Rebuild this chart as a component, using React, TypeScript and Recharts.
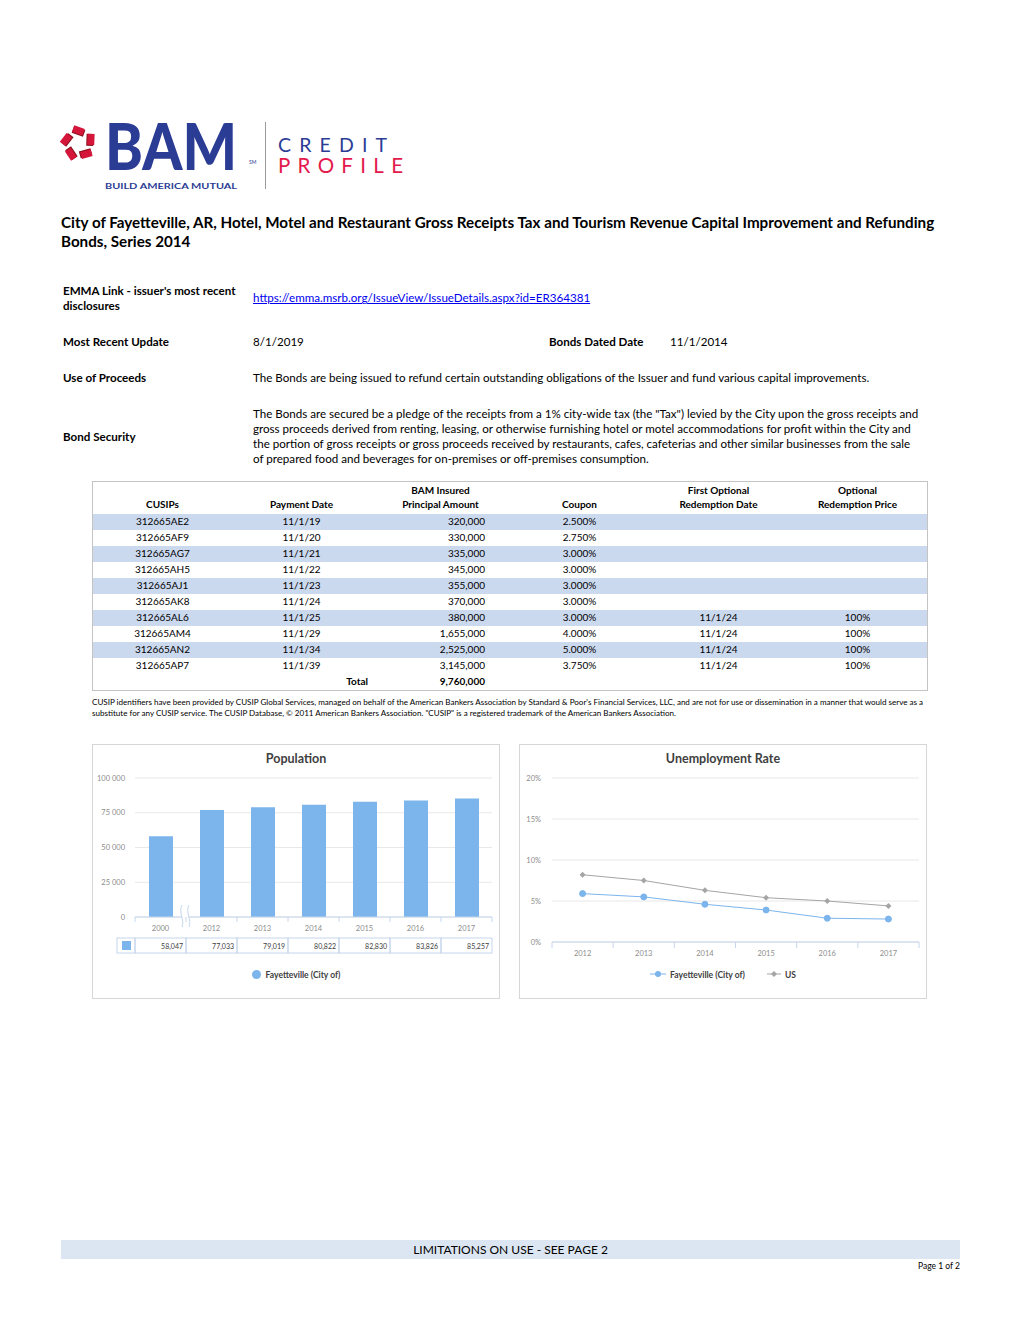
import React from 'react'
import {BarChart, Bar, LineChart, Line, XAxis, YAxis, CartesianGrid} from 'recharts'

// population chart
const popYears = ['2000', '2012', '2013', '2014', '2015', '2016', '2017']
const popValues = [58047, 77033, 79019, 80822, 82830, 83826, 85257]
const popTicks = [0, 25000, 50000, 75000, 100000]

// unemployment chart
const rateYears = ['2012', '2013', '2014', '2015', '2016', '2017']
const fayettevilleRate = [5.9, 5.5, 4.6, 3.9, 2.9, 2.8]
const usRate = [8.2, 7.5, 6.3, 5.4, 5.0, 4.4]
const rateTicks = [0, 5, 10, 15, 20]

// maturity table
const cusips = ['312665AE2', '312665AF9', '312665AG7', '312665AH5', '312665AJ1', '312665AK8', '312665AL6', '312665AM4', '312665AN2', '312665AP7']
const paymentDates = ['11/1/19', '11/1/20', '11/1/21', '11/1/22', '11/1/23', '11/1/24', '11/1/25', '11/1/29', '11/1/34', '11/1/39']
const principals = [320000, 330000, 335000, 345000, 355000, 370000, 380000, 1655000, 2525000, 3145000]
const coupons = ['2.500%', '2.750%', '3.000%', '3.000%', '3.000%', '3.000%', '3.000%', '4.000%', '5.000%', '3.750%']
const callDates = ['', '', '', '', '', '', '11/1/24', '11/1/24', '11/1/24', '11/1/24']
const callPrices = ['', '', '', '', '', '', '100%', '100%', '100%', '100%']

const popData = popYears.map((year, i) => ({year, value: popValues[i]}))
const rateData = rateYears.map((year, i) => ({year, fay: fayettevilleRate[i], us: usRate[i]}))

const BLUE = '#7cb5ec'
const GRAY = '#a5a5a5'
const AXIS = '#c6d6ec'
const LABEL = '#8c8c8c'
const NAVY = '#2b3c95'
const RED = '#e3194b'
const FONT = 'Lato, "Open Sans", sans-serif'

const POP_BAND = (408 - 43 - 8) / popYears.length
const RATE_BAND = (408 - 33 - 8) / rateYears.length

const fmtSpace = (v: number) => v.toLocaleString('en-US').replace(/,/g, ' ')

function YTick(props: any) {
    const {x, y, payload, fmt} = props
    return (
        <text x={x} y={y} textAnchor="end" dominantBaseline="central" fontSize={7.5} fill={LABEL} fontFamily={FONT}>
            {fmt(payload.value)}
        </text>
    )
}

function PopTick(props: any) {
    const {x, y, payload} = props
    const i = popYears.indexOf(payload.value)
    const h = POP_BAND / 2
    return (
        <g>
            <line x1={x - h} x2={x - h} y1={y} y2={y + 5} stroke={AXIS}/>
            {i === popYears.length - 1 && <line x1={x + h} x2={x + h} y1={y} y2={y + 5} stroke={AXIS}/>}
            <text x={x} y={y + 11} textAnchor="middle" dominantBaseline="central" fontSize={7.5} fill={LABEL} fontFamily={FONT}>{payload.value}</text>
            <rect x={x - h} y={y + 21} width={POP_BAND} height={15} fill="none" stroke={AXIS}/>
            <text x={x + h - 3} y={y + 28.5} textAnchor="end" dominantBaseline="central" fontSize={7} fill="#404040" fontFamily={FONT}>
                {popValues[i].toLocaleString('en-US')}
            </text>
            {i === 0 && (
                <g>
                    <rect x={x - h - 18} y={y + 21} width={18} height={15} fill="none" stroke={AXIS}/>
                    <rect x={x - h - 13} y={y + 24} width={9} height={9} fill={BLUE}/>
                    {/* axis break */}
                    <path d={`M${x + h - 4},${y - 12} C${x + h - 8},${y - 5} ${x + h - 1},${y + 3} ${x + h - 4},${y + 10} L${x + h + 3},${y + 10} C${x + h + 6},${y + 3} ${x + h - 1},${y - 5} ${x + h + 3},${y - 12} Z`} fill="#fff"/>
                    <path d={`M${x + h - 4},${y - 12} C${x + h - 8},${y - 5} ${x + h - 1},${y + 3} ${x + h - 4},${y + 10}`} fill="none" stroke={AXIS}/>
                    <path d={`M${x + h + 3},${y - 12} C${x + h - 1},${y - 5} ${x + h + 6},${y + 3} ${x + h + 3},${y + 10}`} fill="none" stroke={AXIS}/>
                </g>
            )}
        </g>
    )
}

function RateTick(props: any) {
    const {x, y, payload} = props
    const i = rateYears.indexOf(payload.value)
    const h = RATE_BAND / 2
    return (
        <g>
            <line x1={x - h} x2={x - h} y1={y} y2={y + 6} stroke={AXIS}/>
            {i === rateYears.length - 1 && <line x1={x + h} x2={x + h} y1={y} y2={y + 6} stroke={AXIS}/>}
            <text x={x} y={y + 11} textAnchor="middle" dominantBaseline="central" fontSize={7.5} fill={LABEL} fontFamily={FONT}>{payload.value}</text>
        </g>
    )
}

function Diamond(props: any) {
    const {cx, cy, index} = props
    return <path key={`d${index}`} d={`M${cx},${cy - 3}L${cx + 3},${cy}L${cx},${cy + 3}L${cx - 3},${cy}Z`} fill={GRAY}/>
}

const boxStyle = (left: number): React.CSSProperties => ({
    position: 'absolute', left, top: 744, width: 408, height: 255,
    border: '1px solid #d6d6d6', boxSizing: 'border-box',
})

const chartTitle: React.CSSProperties = {
    position: 'absolute', left: 0, width: 406, top: 6, textAlign: 'center',
    fontSize: 12.5, fontWeight: 700, color: '#404040', lineHeight: '16px',
}

const legendStyle: React.CSSProperties = {
    position: 'absolute', left: 0, width: 406, top: 224, textAlign: 'center',
    fontSize: 8.5, fontWeight: 700, color: '#404040', lineHeight: '12px', whiteSpace: 'nowrap',
}

function PopulationChart() {
    return (
        <div style={boxStyle(92)}>
            <div style={chartTitle}>Population</div>
            <div style={{position: 'absolute', left: -1, top: -1}}>
                <BarChart width={408} height={255} data={popData} margin={{top: 34, right: 8, left: 0, bottom: 0}}>
                    <CartesianGrid vertical={false} stroke="#e8e8e8"/>
                    <YAxis width={43} domain={[0, 100000]} ticks={popTicks}
                           axisLine={false} tickLine={false} tickSize={0} tickMargin={10}
                           tick={(p: any) => <YTick {...p} fmt={fmtSpace}/>}/>
                    <XAxis dataKey="year" height={82} axisLine={{stroke: AXIS}} tickLine={false}
                           tickSize={0} tickMargin={0} interval={0} tick={(p: any) => <PopTick {...p}/>}/>
                    <Bar dataKey="value" fill={BLUE} barSize={24} isAnimationActive={false}/>
                </BarChart>
            </div>
            <div style={legendStyle}>
                <span style={{display: 'inline-block', width: 9, height: 9, borderRadius: 5, background: BLUE, marginRight: 5, verticalAlign: -1}}/>
                Fayetteville (City of)
            </div>
        </div>
    )
}

function UnemploymentChart() {
    return (
        <div style={boxStyle(519)}>
            <div style={chartTitle}>Unemployment Rate</div>
            <div style={{position: 'absolute', left: -1, top: -1}}>
                <LineChart width={408} height={255} data={rateData} margin={{top: 34, right: 8, left: 0, bottom: 0}}>
                    <CartesianGrid vertical={false} stroke="#e8e8e8"/>
                    <YAxis width={33} domain={[0, 20]} ticks={rateTicks}
                           axisLine={false} tickLine={false} tickSize={0} tickMargin={11}
                           tick={(p: any) => <YTick {...p} fmt={(v: number) => `${v}%`}/>}/>
                    <XAxis dataKey="year" scale="band" height={57} axisLine={{stroke: AXIS}} tickLine={false}
                           tickSize={0} tickMargin={0} interval={0} tick={(p: any) => <RateTick {...p}/>}/>
                    <Line dataKey="us" stroke={GRAY} strokeWidth={1} dot={(p: any) => <Diamond {...p}/>} isAnimationActive={false}/>
                    <Line dataKey="fay" stroke={BLUE} strokeWidth={1} dot={{r: 3, fill: BLUE, stroke: BLUE}} isAnimationActive={false}/>
                </LineChart>
            </div>
            <div style={legendStyle}>
                <svg width={16} height={8} style={{marginRight: 4, verticalAlign: 0}}>
                    <line x1={0} x2={16} y1={4} y2={4} stroke={BLUE}/>
                    <circle cx={8} cy={4} r={3} fill={BLUE}/>
                </svg>
                Fayetteville (City of)
                <svg width={14} height={8} style={{marginLeft: 22, marginRight: 4, verticalAlign: 0}}>
                    <line x1={0} x2={14} y1={4} y2={4} stroke={GRAY}/>
                    <path d="M7,1L10,4L7,7L4,4Z" fill={GRAY}/>
                </svg>
                US
            </div>
        </div>
    )
}

function Logo() {
    const star = [0, 72, 144, 216, 288]
    return (
        <svg width={370} height={100} style={{position: 'absolute', left: 55, top: 95}}>
            {star.map(a => (
                <g key={a} transform={`translate(23.5,48.5) rotate(${a}) translate(0,-12)`}>
                    <rect x={-6} y={-3.5} width={12} height={7} fill="#8b0f1c" transform="rotate(20)"/>
                    <rect x={-6} y={-4.5} width={11} height={7} fill="#d3163a" transform="rotate(20)"/>
                </g>
            ))}
            <g transform="translate(50,75) scale(1,1.12)">
                <text x={0} y={0} fontSize={58} fontWeight={900} fill={NAVY} fontFamily={FONT} textLength={132} lengthAdjust="spacingAndGlyphs">BAM</text>
            </g>
            <text x={194} y={69} fontSize={5} fill={NAVY} fontFamily={FONT}>SM</text>
            <text x={50} y={94} fontSize={7.5} fontWeight={700} fill={NAVY} fontFamily={FONT} textLength={132} lengthAdjust="spacingAndGlyphs">BUILD AMERICA MUTUAL</text>
            <line x1={210.5} x2={210.5} y1={27} y2={94} stroke="#9a9a9a"/>
            <text x={223} y={56.7} fontSize={19.5} fill={NAVY} fontFamily={FONT} textLength={109} lengthAdjust="spacing">CREDIT</text>
            <text x={223} y={78.3} fontSize={20.5} fill={RED} fontFamily={FONT} textLength={125} lengthAdjust="spacing">PROFILE</text>
        </svg>
    )
}

const T = (left: number, cy: number, size: number, extra?: React.CSSProperties): React.CSSProperties => ({
    position: 'absolute', left, top: cy - size * 0.65, lineHeight: `${size * 1.3}px`, fontSize: size,
    whiteSpace: 'nowrap', ...extra,
})

const colW = 139
const cell = (align: 'center' | 'right', pad = 0): React.CSSProperties => ({
    width: colW, textAlign: align, paddingRight: pad, boxSizing: 'border-box', flex: 'none',
})

function BondTable() {
    return (
        <div style={{position: 'absolute', left: 92, top: 481, width: 836, height: 210, border: '1px solid #c4c4c4', boxSizing: 'border-box', fontSize: 10, color: '#000'}}>
            <div style={{display: 'flex', height: 32, fontWeight: 700, lineHeight: '14px', alignItems: 'flex-end', paddingBottom: 3, boxSizing: 'border-box'}}>
                <div style={cell('center')}>CUSIPs</div>
                <div style={cell('center')}>Payment Date</div>
                <div style={cell('center')}>BAM Insured<br/>Principal Amount</div>
                <div style={cell('center')}>Coupon</div>
                <div style={cell('center')}>First Optional<br/>Redemption Date</div>
                <div style={cell('center')}>Optional<br/>Redemption Price</div>
            </div>
            {cusips.map((c, i) => (
                <div key={c} style={{display: 'flex', height: 16, lineHeight: '15px', background: i % 2 === 0 ? '#cbd9ef' : '#fff'}}>
                    <div style={cell('center')}>{c}</div>
                    <div style={cell('center')}>{paymentDates[i]}</div>
                    <div style={cell('right', 25)}>{principals[i].toLocaleString('en-US')}</div>
                    <div style={cell('center')}>{coupons[i]}</div>
                    <div style={cell('center')}>{callDates[i]}</div>
                    <div style={cell('center')}>{callPrices[i]}</div>
                </div>
            ))}
            <div style={{display: 'flex', height: 16, lineHeight: '15px', fontWeight: 700}}>
                <div style={cell('center')}/>
                <div style={cell('right', 3)}>Total</div>
                <div style={cell('right', 25)}>{principals.reduce((a, b) => a + b, 0).toLocaleString('en-US')}</div>
            </div>
        </div>
    )
}

export default function App() {
    const FS = 11.6
    const lbl = (x: number, cy: number, text: string) => <div style={T(x, cy, FS, {fontWeight: 700})}>{text}</div>
    return (
        <div style={{position: 'absolute', left: 0, top: 0, width: 1020, height: 1320, background: '#fff', fontFamily: FONT, color: '#000'}}>
            <Logo/>
            <div style={T(61, 223, 15.2, {fontWeight: 700})}>City of Fayetteville, AR, Hotel, Motel and Restaurant Gross Receipts Tax and Tourism Revenue Capital Improvement and Refunding</div>
            <div style={T(61, 242, 15.2, {fontWeight: 700})}>Bonds, Series 2014</div>

            {lbl(63, 291, 'EMMA Link - issuer\'s most recent')}
            {lbl(63, 306, 'disclosures')}
            <div style={T(253, 298, FS, {color: '#0000ee', textDecoration: 'underline'})}>https://emma.msrb.org/IssueView/IssueDetails.aspx?id=ER364381</div>

            {lbl(63, 342, 'Most Recent Update')}
            <div style={T(253, 342, FS)}>8/1/2019</div>
            {lbl(549, 342, 'Bonds Dated Date')}
            <div style={T(670, 342, FS)}>11/1/2014</div>

            {lbl(63, 378, 'Use of Proceeds')}
            <div style={T(253, 378, FS)}>The Bonds are being issued to refund certain outstanding obligations of the Issuer and fund various capital improvements.</div>

            {lbl(63, 437, 'Bond Security')}
            <div style={T(253, 414, FS)}>The Bonds are secured be a pledge of the receipts from a 1% city-wide tax (the "Tax") levied by the City upon the gross receipts and</div>
            <div style={T(253, 429, FS)}>gross proceeds derived from renting, leasing, or otherwise furnishing hotel or motel accommodations for profit within the City and</div>
            <div style={T(253, 444, FS)}>the portion of gross receipts or gross proceeds received by restaurants, cafes, cafeterias and other similar businesses from the sale</div>
            <div style={T(253, 459, FS)}>of prepared food and beverages for on-premises or off-premises consumption.</div>

            <BondTable/>

            <div style={T(92, 702, 8.05)}>CUSIP identifiers have been provided by CUSIP Global Services, managed on behalf of the American Bankers Association by Standard &amp; Poor's Financial Services, LLC, and are not for use or dissemination in a manner that would serve as a</div>
            <div style={T(92, 713, 8.05)}>substitute for any CUSIP service. The CUSIP Database, © 2011 American Bankers Association. "CUSIP" is a registered trademark of the American Bankers Association.</div>

            <PopulationChart/>
            <UnemploymentChart/>

            <div style={{position: 'absolute', left: 61, top: 1240, width: 899, height: 19, background: '#dce6f2', textAlign: 'center', fontSize: 12, lineHeight: '19px'}}>
                LIMITATIONS ON USE - SEE PAGE 2
            </div>
            <div style={{position: 'absolute', right: 60, top: 1260, fontSize: 8.5, lineHeight: '12px'}}>Page 1 of 2</div>
        </div>
    )
}
